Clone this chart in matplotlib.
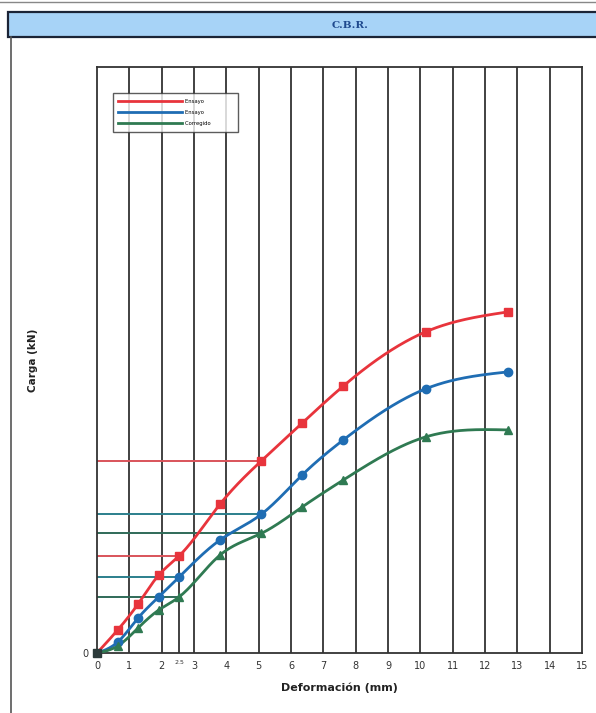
import numpy as np
import matplotlib
matplotlib.use("Agg")
import matplotlib.pyplot as plt
from matplotlib.patches import Rectangle
from matplotlib.lines import Line2D

# Penetration (mm) and load (kN) readings
penetracion = [0, 0.64, 1.27, 1.91, 2.54, 3.81, 5.08, 6.35, 7.62, 10.16, 12.70]
carga_1 = [0, 1.18, 2.51, 3.99, 4.97, 7.63, 9.83, 11.78, 13.67, 16.44, 17.46]
carga_2 = [0, 0.56, 1.79, 2.87, 3.89, 5.79, 7.10, 9.12, 10.91, 13.52, 14.39]
carga_3 = [0, 0.36, 1.28, 2.20, 2.87, 5.02, 6.12, 7.48, 8.86, 11.06, 11.42]
series_labels = ["Ensayo", "Ensayo", "Corregido"]

# reference penetrations used for the CBR readings
pen_ref = [2.54, 5.08]
x_ticks = list(range(0, 16))

COLORS = ["#e8343c", "#1f6db3", "#2f7a52"]
MARKERS = ["s", "o", "^"]
GUIDE_COLORS = ["#d9535a", "#2b7f8c", "#2f6a58"]


def smooth(xs, ys, n=400):
    """Natural cubic spline through the measured points."""
    x = np.asarray(xs, float)
    y = np.asarray(ys, float)
    k = len(x)
    h = np.diff(x)
    A = np.zeros((k, k))
    b = np.zeros(k)
    A[0, 0] = A[-1, -1] = 1.0
    for i in range(1, k - 1):
        A[i, i - 1] = h[i - 1]
        A[i, i] = 2 * (h[i - 1] + h[i])
        A[i, i + 1] = h[i]
        b[i] = 6 * ((y[i + 1] - y[i]) / h[i] - (y[i] - y[i - 1]) / h[i - 1])
    M = np.linalg.solve(A, b)
    xx = np.linspace(x[0], x[-1], n)
    idx = np.clip(np.searchsorted(x, xx) - 1, 0, k - 2)
    x0, x1 = x[idx], x[idx + 1]
    hh = x1 - x0
    a, bb = (x1 - xx) / hh, (xx - x0) / hh
    yy = (a * y[idx] + bb * y[idx + 1]
          + ((a ** 3 - a) * M[idx] + (bb ** 3 - bb) * M[idx + 1]) * hh ** 2 / 6)
    return xx, yy


fig = plt.figure(figsize=(5.96, 7.13), dpi=100)
fig.patch.set_facecolor("white")

# header band
fig.add_artist(Rectangle((8 / 596, 1 - 37 / 713), 1.0, 25 / 713,
                         transform=fig.transFigure, facecolor="#a7d3f7",
                         edgecolor="#1b2436", linewidth=1.6))
fig.text(350 / 596, 1 - 25 / 713, "C.B.R.", ha="center", va="center",
         fontsize=7.5, fontweight="bold", family="DejaVu Serif", color="#1f4a8f")
fig.add_artist(Line2D([11 / 596, 11 / 596], [0, 1 - 37 / 713],
                      transform=fig.transFigure, color="#555555", linewidth=1.2))
fig.add_artist(Line2D([0, 1], [1 - 2 / 713, 1 - 2 / 713],
                      transform=fig.transFigure, color="#888888", linewidth=1.0))

ax = fig.add_axes([97 / 596, 1 - 653 / 713, 485 / 596, 586 / 713])
ax.set_xlim(0, 15)
ax.set_ylim(0, 30)
for s in ax.spines.values():
    s.set_color("#333333")
    s.set_linewidth(1.3)

for xv in x_ticks[1:-1]:
    ax.axvline(xv, color="#333333", linewidth=1.3, zorder=1)

series = [carga_1, carga_2, carga_3]

# guide lines at the reference penetrations
for ys, gc in zip(series, GUIDE_COLORS):
    for pr in pen_ref:
        val = ys[penetracion.index(pr)]
        ax.plot([0, pr], [val, val], color=gc, linewidth=1.4, zorder=2)
ax.plot([pen_ref[0], pen_ref[0]], [0, carga_1[penetracion.index(pen_ref[0])]],
        color="#333333", linewidth=1.3, zorder=1)

for ys, c, m, lab in zip(series, COLORS, MARKERS, series_labels):
    sx, sy = smooth(penetracion, ys)
    ax.plot(sx, sy, color=c, linewidth=2.0, zorder=3, label=lab)
    ax.plot(penetracion[1:], ys[1:], linestyle="none", marker=m, markersize=6,
            color=c, zorder=4)
ax.plot([0], [0], marker="s", markersize=6, color="#2c3a3a", zorder=5,
        clip_on=False)

ax.set_xticks(x_ticks)
ax.set_xticklabels([str(v) for v in x_ticks])
ax.set_yticks([0])
ax.set_yticklabels(["0"])
ax.tick_params(axis="both", labelsize=7, colors="#333333", length=0, pad=6)
ax.text(2.54, -0.012, "2.5", transform=ax.get_xaxis_transform(),
        ha="center", va="top", fontsize=4.5, color="#333333")

ax.set_xlabel("Deformación (mm)", fontsize=8, fontweight="bold",
              color="#222222", labelpad=8)
ax.set_ylabel("Carga (kN)", fontsize=7.5, fontweight="bold",
              color="#222222", labelpad=32)

leg = ax.legend(loc="upper left", bbox_to_anchor=(0.033, 0.955), fontsize=3.8,
                handlelength=12, handletextpad=0.6, frameon=True,
                fancybox=False, edgecolor="#333333", borderpad=1.0,
                labelspacing=1.2, borderaxespad=0)
leg.get_frame().set_linewidth(1.0)
# widen the frame on the right side of the labels
for t in leg.get_texts():
    t.set_text(t.get_text() + "              ")

fig.savefig("out.png", dpi=100)
